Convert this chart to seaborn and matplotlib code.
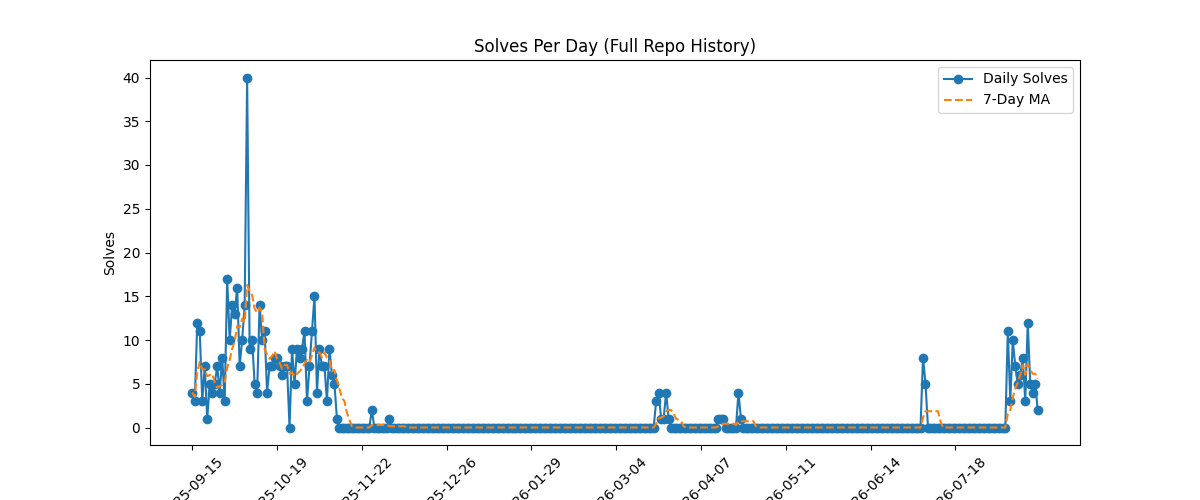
import numpy as np
import pandas as pd
import matplotlib
matplotlib.use("Agg")
import matplotlib.pyplot as plt
import seaborn as sns

start_vals = [4, 3, 12, 11, 3, 7, 1, 5, 4, 5, 7, 4, 8, 3, 17, 10, 14, 13, 16, 7,
              10, 14, 40, 9, 10, 5, 4, 14, 10, 11, 4, 7, 7, 8, 8, 7, 6, 7, 7, 0,
              9, 5, 9, 8, 9, 11, 3, 7, 11, 15, 4, 9, 7, 7, 3, 9, 6, 5, 1]

solves = np.zeros(340, dtype=int)
solves[:len(start_vals)] = start_vals
spikes = {72: 2, 79: 1,
          186: 3, 187: 4, 188: 1, 189: 1, 190: 4, 191: 1,
          211: 1, 212: 1, 213: 1, 219: 4, 220: 1,
          293: 8, 294: 5}
for i, v in spikes.items():
    solves[i] = v
end_vals = [11, 3, 10, 7, 5, 6, 8, 3, 12, 5, 4, 5, 2]
solves[327:] = end_vals

dates = pd.date_range("2025-09-15", periods=len(solves)).strftime("%Y-%m-%d")
df = pd.DataFrame({"date": dates, "solves": solves})
df["ma7"] = df["solves"].rolling(7, min_periods=1).mean()
df["idx"] = np.arange(len(df))

fig, ax = plt.subplots(figsize=(12, 5), dpi=100)
sns.lineplot(data=df, x="idx", y="solves", marker="o", markersize=7,
             markeredgewidth=0, color="#1f77b4", label="Daily Solves", ax=ax)
sns.lineplot(data=df, x="idx", y="ma7", linestyle="--", color="#ff7f0e",
             label="7-Day MA", ax=ax)

ticks = df["idx"][::34]
ax.set_xticks(ticks)
ax.set_xticklabels(df["date"][::34], rotation=45)
ax.set_xlabel("")
ax.set_ylabel("Solves")
ax.set_title("Solves Per Day (Full Repo History)")
ax.legend(loc="upper right")
fig.savefig("out.png")
